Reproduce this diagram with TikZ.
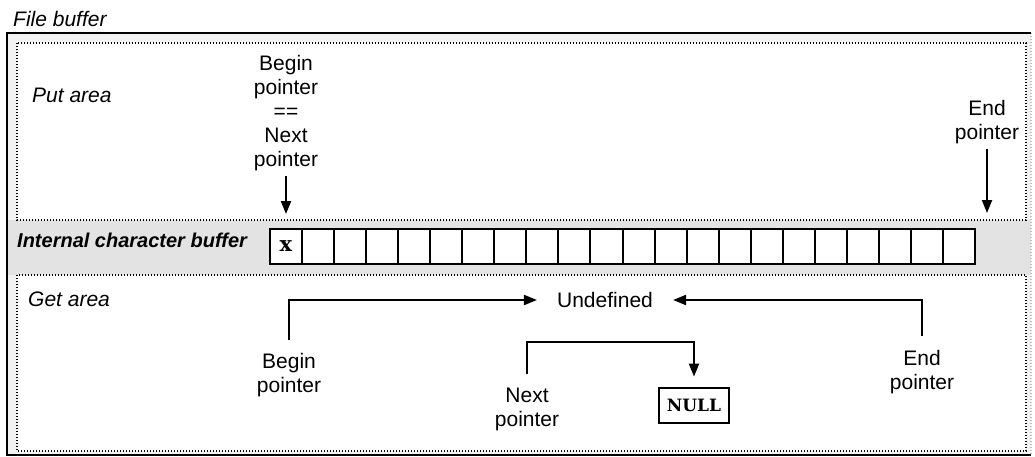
\documentclass[tikz,border=0pt]{standalone}
\usepackage{fontspec}
\setmainfont{Liberation Sans}
\newfontfamily\slabfont{DejaVu Serif}
\usetikzlibrary{arrows.meta,calc,positioning}
\tikzset{
  ptr/.style={-{Triangle[length=13pt, width=10pt]}, line width=2.1pt},
  area/.style={draw, fill=white, line width=2.2pt, dash pattern=on 1.4pt off 1.6pt},
  cell/.style={draw, fill=white, line width=2pt, minimum width=32.05pt, minimum height=35pt, inner sep=0pt, outer sep=0pt},
  txt/.style={align=center, inner sep=0pt, font=\fontsize{21}{24}\selectfont},
  title/.style={inner sep=0pt, font=\fontsize{21}{24}\selectfont\itshape},
}

\begin{document}
\begin{tikzpicture}[x=1pt, y=-1pt]
  \useasboundingbox (0,0) rectangle (1035,457);

  % Frame of the file buffer
  \fill[gray!10] (7,33) rectangle (1031,455);
  \fill[gray!22] (7,220) rectangle (1031,275);
  \draw[gray!50, line width=1.8pt, dash pattern=on 1.4pt off 1.6pt] (1031,33) -- (1031,455);
  \draw[line width=2.8pt] (1031,33) -- (7,33) -- (7,455) -- (1031,455);
  \node[title, anchor=base west] (filebuf) at (13,27) {File buffer};

  % Put and get areas
  \draw[area] (17,43) rectangle (1026,220);
  \draw[area] (17,275) rectangle (1026,451);

  % Internal character buffer
  \node[inner sep=0pt, font=\fontsize{20}{24}\selectfont\bfseries\itshape, anchor=base west] (icb) at (17,247) {Internal character buffer};
  \foreach \i in {0,...,21}
    \node[cell] (cell\i) at (286+32.05*\i, 246.5) {};
  \draw[line width=2.6pt] (cell0.north west) rectangle (cell21.south east);
  \node[font=\fontsize{21}{21}\selectfont\slabfont\bfseries] (xchar) at (cell0) {x};

  % Put area
  \node[title, anchor=base west] (putarea) at (32,103) {Put area};
  \node[txt, anchor=north] (putbegin) at (286,55) {Begin\\pointer\\==\\Next\\pointer};
  \node[txt, anchor=north] (putend) at (987,100) {End\\pointer};
  \coordinate (putendtip) at (987,213);
  \draw[ptr, shorten <=5pt, shorten >=15pt] (putbegin) -- (cell0);
  \draw[ptr, shorten <=5pt] (putend) -- (putendtip);

  % Get area
  \node[title, anchor=base west] (getarea) at (28,306) {Get area};
  \node[txt, inner xsep=20pt] (undef) at (605,300) {Undefined};
  \node[txt, anchor=north] (getbegin) at (289,353) {Begin\\pointer};
  \node[txt, anchor=north] (getend) at (922,350) {End\\pointer};
  \node[txt, anchor=north] (getnext) at (527,388) {Next\\pointer};
  \node[draw, fill=white, line width=2.8pt, minimum width=70pt, minimum height=35pt, font=\fontsize{17}{17}\selectfont\slabfont\bfseries] (null) at (694,405.5) {NULL};
  \draw[ptr, shorten <=13pt] (getbegin.north) |- (undef.west);
  \draw[ptr, shorten <=14pt] (getend.north) |- (undef.east);
  \draw[ptr, shorten <=14pt, shorten >=10pt] (getnext.north) -- ++(0,-46) -| (null.north);
\end{tikzpicture}
\end{document}
